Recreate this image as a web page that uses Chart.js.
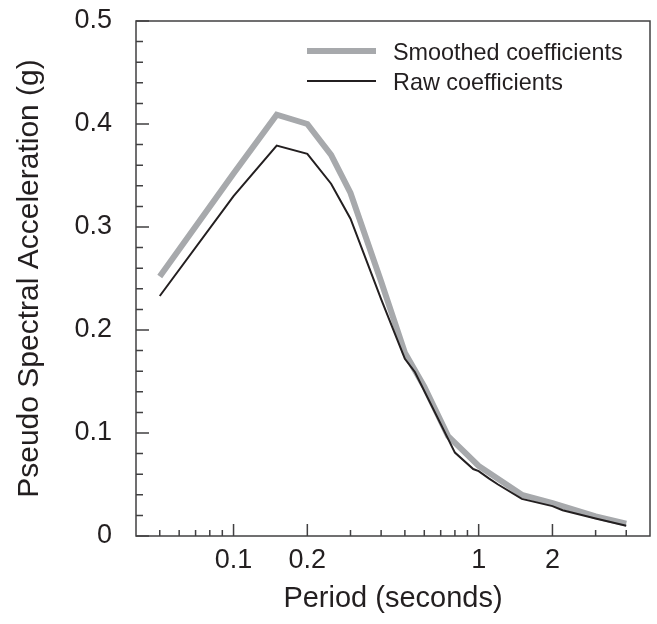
<!DOCTYPE html>
<html><head><meta charset="utf-8">
<script src="https://cdn.jsdelivr.net/npm/chart.js@4.4.1/dist/chart.umd.min.js"></script>
<style>html,body{margin:0;padding:0;background:#fff;} canvas{display:block;}</style>
</head><body>
<canvas id="c" width="657" height="624"></canvas>
<script>
const smoothedPeriods = [0.05,0.1,0.15,0.2,0.25,0.3,0.4,0.5,0.6,0.75,1.0,1.5,2.0,3.0,4.0];
const smoothedValues  = [0.252,0.352,0.409,0.400,0.370,0.333,0.247,0.178,0.145,0.097,0.068,0.040,0.032,0.019,0.012];
const rawPeriods = [0.05,0.1,0.15,0.2,0.25,0.3,0.4,0.5,0.55,0.8,0.95,1.0,1.1,1.2,1.5,2.0,2.2,3.0,4.0];
const rawValues  = [0.233,0.330,0.379,0.371,0.342,0.308,0.230,0.172,0.159,0.081,0.065,0.063,0.056,0.050,0.036,0.029,0.025,0.017,0.010];
const xLabeledTicks = [0.1,0.2,1,2];
const xTickLabels = ['0.1','0.2','1','2'];
const xMinorTicks = [0.05,0.06,0.07,0.08,0.09,0.3,0.4,0.5,0.6,0.7,0.8,0.9,3,4];
const yMajorTicks = [0,0.1,0.2,0.3,0.4,0.5];
const yTickLabels = ['0','0.1','0.2','0.3','0.4','0.5'];
const yMinorTicks = [0.02,0.04,0.06,0.08,0.12,0.14,0.16,0.18,0.22,0.24,0.26,0.28,0.32,0.34,0.36,0.38,0.42,0.44,0.46,0.48];
const seriesLabels = ['Smoothed coefficients','Raw coefficients'];

const FONT = "'Liberation Sans', Arial, Helvetica, sans-serif";
const TEXT = '#231f20';
const AXIS = '#414042';

const framePlugin = {
  id: 'frame',
  afterDatasetsDraw(chart) {
    const {ctx, chartArea: a, scales: {x, y}} = chart;
    ctx.save();
    ctx.strokeStyle = AXIS;
    ctx.lineWidth = 1.5;
    ctx.strokeRect(a.left, a.top, a.right - a.left, a.bottom - a.top);
    ctx.beginPath();
    yMajorTicks.forEach(v => { const p = y.getPixelForValue(v); ctx.moveTo(a.left, p); ctx.lineTo(a.left + 13, p); });
    yMinorTicks.forEach(v => { const p = y.getPixelForValue(v); ctx.moveTo(a.left, p); ctx.lineTo(a.left + 7, p); });
    xLabeledTicks.forEach(v => { const p = x.getPixelForValue(v); ctx.moveTo(p, a.bottom); ctx.lineTo(p, a.bottom - 12); });
    xMinorTicks.forEach(v => { const p = x.getPixelForValue(v); ctx.moveTo(p, a.bottom); ctx.lineTo(p, a.bottom - 6); });
    ctx.stroke();
    ctx.restore();
  }
};

const legendPlugin = {
  id: 'insideLegend',
  afterDraw(chart) {
    const ctx = chart.ctx;
    ctx.save();
    const rows = [{ds: chart.data.datasets[0], y: 51}, {ds: chart.data.datasets[1], y: 81}];
    rows.forEach(r => {
      ctx.strokeStyle = r.ds.borderColor;
      ctx.lineWidth = r.ds.borderWidth;
      ctx.lineCap = 'butt';
      ctx.beginPath(); ctx.moveTo(307, r.y); ctx.lineTo(376, r.y); ctx.stroke();
      ctx.fillStyle = TEXT;
      ctx.font = '23.4px ' + FONT;
      ctx.textBaseline = 'alphabetic';
      ctx.textAlign = 'left';
      ctx.fillText(r.ds.label, 393, r.y + 9);
    });
    ctx.restore();
  }
};

new Chart(document.getElementById('c'), {
  type: 'line',
  data: {
    datasets: [
      {
        label: seriesLabels[0],
        data: smoothedPeriods.map((p, i) => ({x: p, y: smoothedValues[i]})),
        borderColor: '#a7a9ac', borderWidth: 6, pointRadius: 0, fill: false,
        tension: 0, borderJoinStyle: 'miter', order: 1
      },
      {
        label: seriesLabels[1],
        data: rawPeriods.map((p, i) => ({x: p, y: rawValues[i]})),
        borderColor: '#231f20', borderWidth: 2, pointRadius: 0, fill: false,
        tension: 0, borderJoinStyle: 'miter', order: 0
      }
    ]
  },
  options: {
    responsive: false,
    animation: false,
    devicePixelRatio: 1,
    layout: {padding: {top: 21, right: 7, left: 0, bottom: 0}},
    plugins: {legend: {display: false}, tooltip: {enabled: false}},
    scales: {
      x: {
        type: 'logarithmic', min: 0.04, max: 5, position: 'bottom',
        grid: {display: false, drawTicks: false}, border: {display: false},
        afterBuildTicks: s => { s.ticks = xLabeledTicks.map(v => ({value: v})); },
        afterFit: s => { s.height = 88; s.paddingLeft = 0; s.paddingRight = 0; },
        ticks: {
          autoSkip: false, maxRotation: 0, minRotation: 0, padding: 8,
          color: TEXT, font: {family: FONT, size: 27},
          callback: (v) => { const i = xLabeledTicks.indexOf(v); return i >= 0 ? xTickLabels[i] : ''; }
        },
        title: {display: true, text: 'Period (seconds)', color: TEXT,
          font: {family: FONT, size: 29}, padding: {top: 0, bottom: 8}}
      },
      y: {
        type: 'linear', min: 0, max: 0.5,
        grid: {display: false, drawTicks: false}, border: {display: false},
        afterBuildTicks: s => { s.ticks = yMajorTicks.map(v => ({value: v})); },
        afterFit: s => { s.width = 136; s.paddingTop = 0; s.paddingBottom = 0; },
        ticks: {
          padding: 24, color: TEXT, font: {family: FONT, size: 27},
          callback: (v) => { const i = yMajorTicks.findIndex(t => Math.abs(t - v) < 1e-9); return i >= 0 ? yTickLabels[i] : ''; }
        },
        title: {display: true, text: 'Pseudo Spectral Acceleration (g)', color: TEXT,
          font: {family: FONT, size: 30}, padding: {top: 12, bottom: 0}}
      }
    }
  },
  plugins: [framePlugin, legendPlugin]
});
</script>
</body></html>
